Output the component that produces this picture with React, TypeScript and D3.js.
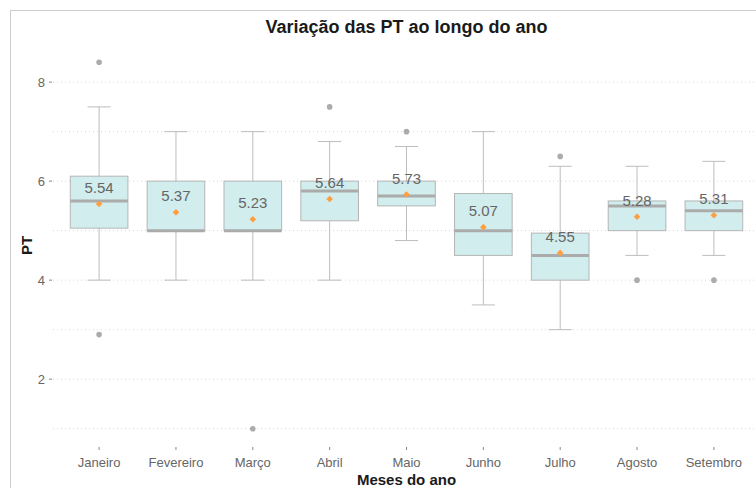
import * as d3 from "d3";

const months = ["Janeiro", "Fevereiro", "Março", "Abril", "Maio", "Junho", "Julho", "Agosto", "Setembro"];
const lowWhisker = [4, 4, 4, 4, 4.8, 3.5, 3, 4.5, 4.5];
const q1 = [5.05, 5, 5, 5.2, 5.5, 4.5, 4, 5, 5];
const median = [5.6, 5, 5, 5.8, 5.7, 5, 4.5, 5.5, 5.4];
const q3 = [6.1, 6, 6, 6, 6, 5.75, 4.95, 5.6, 5.6];
const highWhisker = [7.5, 7, 7, 6.8, 6.7, 7, 6.3, 6.3, 6.4];
const means = [5.54, 5.37, 5.23, 5.64, 5.73, 5.07, 4.55, 5.28, 5.31];
const outliers = [[8.4, 2.9], [], [1.0], [7.5], [7.0], [], [6.5], [4.0], [4.0]];
const yTicks = [2, 4, 6, 8];
const yMinor = [1, 3, 5, 7];

const W = 756, H = 488;
const left = 53, right = 760, top = 44, bottom = 447;

export default function App() {
  const x = d3.scalePoint<string>().domain(months).range([left, right]).padding(0.6);
  const y = d3.scaleLinear().domain([0.63, 8.77]).range([bottom, top]);
  const step = x.step();
  const boxW = step * 0.75;
  const capW = step * 0.3;
  const font = "Arial, 'Liberation Sans', sans-serif";
  const diamond = d3.symbol().type(d3.symbolDiamond2).size(28)();

  return (
    <svg width={W} height={H} style={{ position: "absolute", left: 0, top: 0 }} fontFamily={font}>
      <rect x={0} y={0} width={W} height={H} fill="#fff" />
      <rect x={10.5} y={10.5} width={800} height={600} fill="none" stroke="#cccccc" strokeWidth={1} />
      {[...yTicks, ...yMinor].map(t => (
        <line key={"g" + t} x1={left} x2={right} y1={y(t)} y2={y(t)} stroke="#d6d6d6" strokeWidth={1} strokeDasharray="1,3" />
      ))}
      {yTicks.map(t => (
        <g key={"t" + t}>
          <line x1={left - 4} x2={left - 1} y1={y(t)} y2={y(t)} stroke="#888" />
          <text x={left - 8} y={y(t)} dy="0.35em" textAnchor="end" fontSize={13} fill="#666">{t}</text>
        </g>
      ))}
      {months.map((m, i) => {
        const cx = x(m)!;
        return (
          <g key={m}>
            <line x1={cx} x2={cx} y1={bottom} y2={bottom + 3} stroke="#888" />
            <text x={cx} y={467} textAnchor="middle" fontSize={13} fill="#666">{m}</text>
            <line x1={cx} x2={cx} y1={y(q3[i])} y2={y(highWhisker[i])} stroke="#bdbdbd" />
            <line x1={cx} x2={cx} y1={y(q1[i])} y2={y(lowWhisker[i])} stroke="#bdbdbd" />
            <line x1={cx - capW / 2} x2={cx + capW / 2} y1={y(highWhisker[i])} y2={y(highWhisker[i])} stroke="#bdbdbd" />
            <line x1={cx - capW / 2} x2={cx + capW / 2} y1={y(lowWhisker[i])} y2={y(lowWhisker[i])} stroke="#bdbdbd" />
            <rect x={cx - boxW / 2} y={y(q3[i])} width={boxW} height={y(q1[i]) - y(q3[i])} fill="#d1eded" stroke="#b5b5b5" strokeWidth={1} />
            <line x1={cx - boxW / 2} x2={cx + boxW / 2} y1={y(median[i])} y2={y(median[i])} stroke="#ababab" strokeWidth={3} />
            {outliers[i].map((o, j) => (
              <circle key={j} cx={cx} cy={y(o)} r={2.8} fill="#ababab" />
            ))}
            <path d={diamond!} transform={`translate(${cx},${y(means[i])})`} fill="#ff9f40" />
            <text x={cx} y={y(means[i]) - 11} textAnchor="middle" fontSize={15} fill="#666">{means[i].toFixed(2)}</text>
          </g>
        );
      })}
      <text x={(left + right) / 2} y={33} textAnchor="middle" fontSize={18} fontWeight="bold" fill="#1a1a1a">Variação das PT ao longo do ano</text>
      <text x={(left + right) / 2} y={485} textAnchor="middle" fontSize={15} fontWeight="bold" fill="#1a1a1a">Meses do ano</text>
      <text transform={`translate(32,${(top + bottom) / 2}) rotate(-90)`} textAnchor="middle" fontSize={15} fontWeight="bold" fill="#1a1a1a">PT</text>
    </svg>
  );
}
